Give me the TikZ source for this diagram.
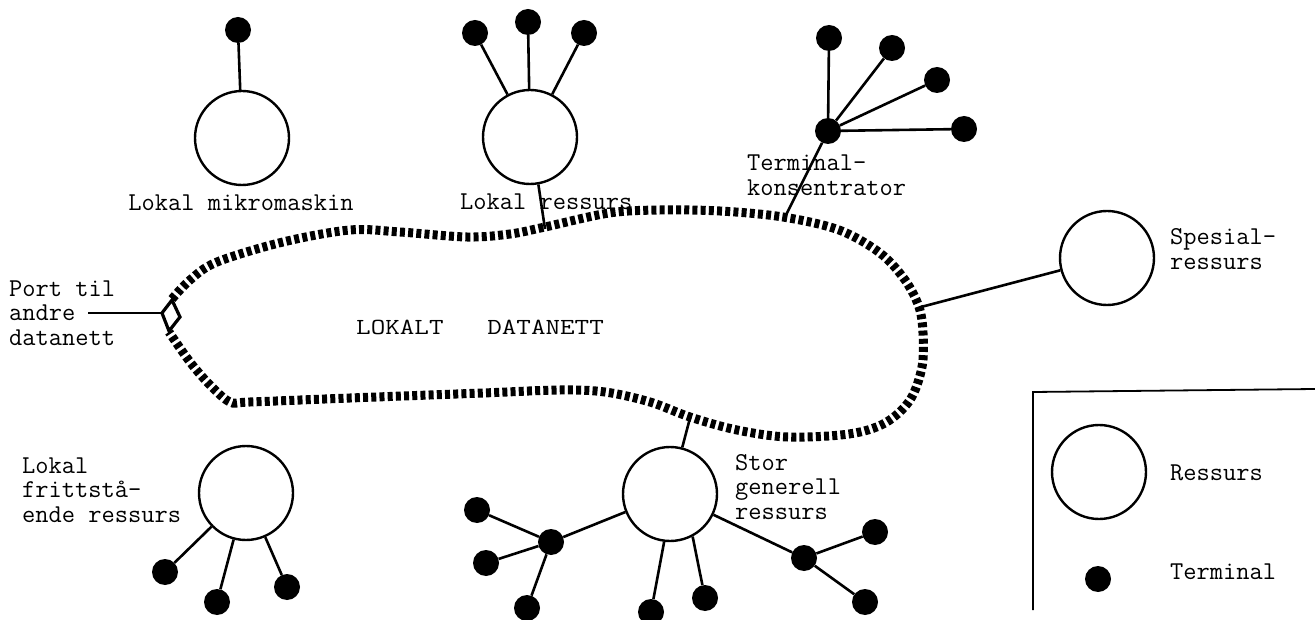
\documentclass[tikz,border=0pt]{standalone}
\usepackage{fontspec}
\usetikzlibrary{calc}
\begin{document}
\begin{tikzpicture}[x=1pt,y=-1pt,
  res/.style={circle,draw,line width=2.4pt,minimum size=94pt,inner sep=0pt},
  term/.style={circle,fill=black,minimum size=26pt,inner sep=0pt},
  hub/.style={circle,fill=black,minimum size=26pt,inner sep=0pt},
  conn/.style={line width=2.6pt},
  ringline/.style={line width=9pt,dash pattern=on 5pt off 3.2pt},
  lbl/.style={font=\ttfamily\fontsize{25.7}{24.5}\selectfont,inner sep=0pt,align=left},
  big/.style={font=\ttfamily\fontsize{23}{24}\selectfont,inner sep=0pt}]
\useasboundingbox (0,0) rectangle (1315,620);

% ring (local network)
\draw[ringline] plot[smooth,tension=0.55] coordinates {
 (172,299) (190,280) (217,262) (283,242) (350,230) (400,232)
 (467,237) (510,234) (545,227) (609,213) (660,210) (720,211)
 (783,217) (839,230) (880,253) (905,280) (919,307) (923,333) (922,367)
 (910,400) (885,423) (849,434) (788,437) (737,430) (690,417) (650,402)
 (605,392) (560,390) (483,393) (350,398) (250,402) (230,402) (210,385)
 (190,362) (169,332)};

% ring attachment points
\coordinate (rLR) at (545,229);
\coordinate (rTK) at (785,217);
\coordinate (rSP) at (921,307);
\coordinate (rSG) at (690,418);

% port
\coordinate (pL) at (162,313);
\coordinate (pT) at (172,300);
\coordinate (pR) at (180,317);
\coordinate (pB) at (169,331);
\draw[line width=3.2pt,line join=miter] (pL) -- (pT) -- (pR) -- (pB) -- cycle;
\node[lbl,anchor=west] (portlbl) at (9,313) {Port til\\andre\\datanett};
\coordinate (pS) at (88,313);
\draw[conn] (pS) -- (pL);

\node[big,anchor=west] (net) at (356,327) {\scalebox{1.23}[1]{LOKALT\ \ \ DATANETT}};

% Lokal mikromaskin
\node[res] (mik) at (242,138) {};
\node[term] (mikT) at (238,30) {};
\draw[conn] (mik) -- (mikT);
\node[lbl] (miklbl) at (241,203) {Lokal mikromaskin};

% Lokal ressurs
\node[res] (lr) at (530,137) {};
\node[term] (lrT1) at (475,33) {};
\node[term] (lrT2) at (528,22) {};
\node[term] (lrT3) at (584,33) {};
\draw[conn] (lr) -- (lrT1);
\draw[conn] (lr) -- (lrT2);
\draw[conn] (lr) -- (lrT3);
\draw[conn] (lr.-80) -- (rLR);
\node[lbl,anchor=west] (lrlbl) at (460,202) {Lokal ressurs};

% Terminal concentrator
\node[hub] (tk) at (828,131) {};
\node[term] (tkT1) at (829,38) {};
\node[term] (tkT2) at (892,48) {};
\node[term] (tkT3) at (937,80) {};
\node[term] (tkT4) at (964,129) {};
\foreach \t in {tkT1,tkT2,tkT3,tkT4} \draw[conn] (tk) -- (\t);
\draw[conn] (tk) -- (rTK);
\node[lbl,anchor=west] (tklbl) at (747,175) {Terminal-\\konsentrator};

% Spesialressurs
\node[res] (sp) at (1107,258) {};
\draw[conn] (rSP) -- (sp);
\node[lbl,anchor=west] (splbl) at (1170,249) {Spesial-\\ressurs};

% Lokal frittstaaende ressurs
\node[res] (fr) at (246,493) {};
\node[term] (frT1) at (165,572) {};
\node[term] (frT2) at (217,602) {};
\node[term] (frT3) at (287,587) {};
\draw[conn] (fr) -- (frT1);
\draw[conn] (fr) -- (frT2);
\draw[conn] (fr) -- (frT3);
\node[lbl,anchor=west] (frlbl) at (22,490) {Lokal\\frittstå-\\ende ressurs};

% Stor generell ressurs
\node[res] (sg) at (670,494) {};
\draw[conn] (sg) -- (rSG);
\node[hub] (sgH1) at (551,542) {};
\node[term] (sgT1) at (477,510) {};
\node[term] (sgT2) at (486,563) {};
\node[term] (sgT3) at (527,608) {};
\draw[conn] (sg) -- (sgH1);
\foreach \t in {sgT1,sgT2,sgT3} \draw[conn] (sgH1) -- (\t);
\node[term] (sgT4) at (651,612) {};
\node[term] (sgT5) at (705,598) {};
\draw[conn] (sg.-97) -- (sgT4);
\draw[conn] (sg.-62) -- (sgT5);
\node[hub] (sgH2) at (804,558) {};
\node[term] (sgT6) at (875,532) {};
\node[term] (sgT7) at (865,602) {};
\draw[conn] (sg) -- (sgH2);
\draw[conn] (sgH2) -- (sgT6);
\draw[conn] (sgH2) -- (sgT7);
\node[lbl,anchor=west] (sglbl) at (735,487) {Stor\\generell\\ressurs};

% Legend
\coordinate (lgA) at (1315,389);
\coordinate (lgB) at (1033,392);
\coordinate (lgC) at (1033,610);
\draw[line width=1.8pt] (lgA) -- (lgB) -- (lgC);
\node[res] (lgR) at (1099,472) {};
\node[lbl,anchor=west] (lgRl) at (1170,473) {Ressurs};
\node[term] (lgT) at (1098,579) {};
\node[lbl,anchor=west] (lgTl) at (1170,572) {Terminal};
\end{tikzpicture}
\end{document}
